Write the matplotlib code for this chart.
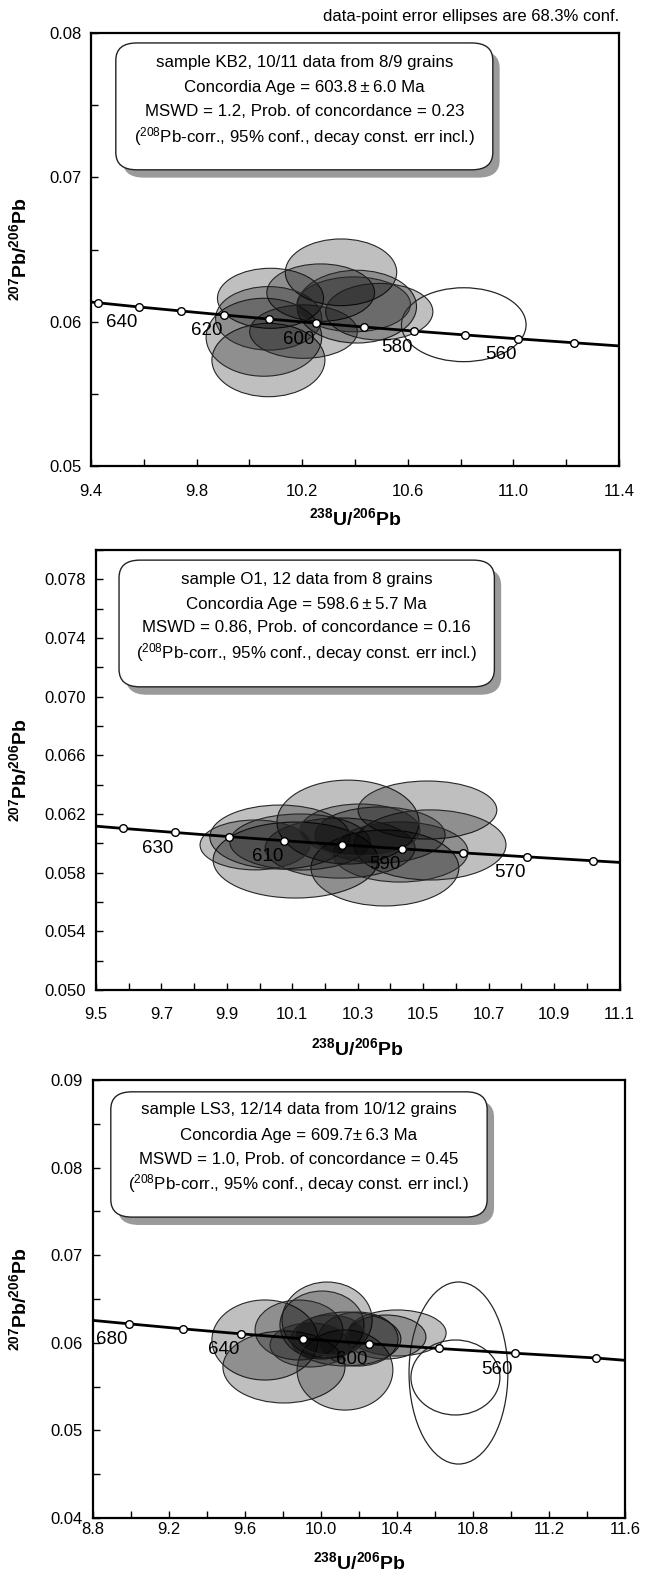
import matplotlib
matplotlib.use('Agg')
import matplotlib.pyplot as plt
from matplotlib.patches import Ellipse, FancyBboxPatch
from matplotlib.ticker import MultipleLocator

plt.rcParams['font.family'] = ['Liberation Sans', 'DejaVu Sans']
plt.rcParams['mathtext.fontset'] = 'custom'
plt.rcParams['mathtext.rm'] = 'Liberation Sans'
plt.rcParams['mathtext.bf'] = 'Liberation Sans:bold'
plt.rcParams['mathtext.it'] = 'Liberation Sans:italic'

# ---- sample KB2 ----
kb2_ages = [650, 640, 630, 620, 610, 600, 590, 580, 570, 560, 550]
kb2_cx = [9.426, 9.581, 9.741, 9.905, 10.076, 10.252, 10.434, 10.622, 10.817, 11.019, 11.228]
kb2_cy = [0.06131, 0.06102, 0.06074, 0.06046, 0.06018, 0.05990, 0.05963, 0.05935, 0.05908, 0.05881, 0.05854]
kb2_edge_x = [9.40, 11.40]
kb2_edge_y = [0.06136, 0.05832]
kb2_labels = [640, 620, 600, 580, 560]
kb2_x = [10.347, 10.080, 10.270, 10.407, 10.492, 10.072, 10.055, 10.205, 10.073, 10.395]
kb2_y = [0.06342, 0.06162, 0.06201, 0.06104, 0.06069, 0.05734, 0.05892, 0.05931, 0.06023, 0.06120]
kb2_sx = [0.211, 0.201, 0.204, 0.226, 0.203, 0.214, 0.219, 0.204, 0.201, 0.215]
kb2_sy = [0.00231, 0.00208, 0.00199, 0.00252, 0.00196, 0.00254, 0.00270, 0.00185, 0.00220, 0.00190]
kb2_open_x = [10.812]
kb2_open_y = [0.05979]
kb2_open_sx = [0.236]
kb2_open_sy = [0.00256]
kb2_xticks = [9.4, 9.8, 10.2, 10.6, 11.0, 11.4]
kb2_xticklabels = ['9.4', '9.8', '10.2', '10.6', '11.0', '11.4']
kb2_yticks = [0.05, 0.06, 0.07, 0.08]
kb2_yticklabels = ['0.05', '0.06', '0.07', '0.08']

# ---- sample O1 ----
o1_ages = [640, 630, 620, 610, 600, 590, 580, 570, 560]
o1_cx = [9.581, 9.741, 9.905, 10.076, 10.252, 10.434, 10.622, 10.817, 11.019]
o1_cy = [0.06102, 0.06074, 0.06046, 0.06018, 0.05990, 0.05963, 0.05935, 0.05908, 0.05881]
o1_edge_x = [9.50, 11.10]
o1_edge_y = [0.06117, 0.05870]
o1_labels = [630, 610, 590, 570]
o1_x = [10.110, 10.383, 10.270, 10.513, 10.521, 10.062, 10.123, 10.246, 10.368, 10.429, 9.986, 10.307]
o1_y = [0.05886, 0.05832, 0.06145, 0.06227, 0.05989, 0.06043, 0.06009, 0.05968, 0.06057, 0.05941, 0.05989, 0.06091]
o1_sx = [0.252, 0.226, 0.217, 0.212, 0.232, 0.214, 0.214, 0.229, 0.199, 0.208, 0.168, 0.183]
o1_sy = [0.00259, 0.00259, 0.00286, 0.00198, 0.00239, 0.00218, 0.00191, 0.00205, 0.00191, 0.00205, 0.00170, 0.00177]
o1_xticks = [9.5, 9.7, 9.9, 10.1, 10.3, 10.5, 10.7, 10.9, 11.1]
o1_xticklabels = ['9.5', '9.7', '9.9', '10.1', '10.3', '10.5', '10.7', '10.9', '11.1']
o1_yticks = [0.050, 0.054, 0.058, 0.062, 0.066, 0.070, 0.074, 0.078]
o1_yticklabels = ['0.050', '0.054', '0.058', '0.062', '0.066', '0.070', '0.074', '0.078']

# ---- sample LS3 ----
ls3_ages = [680, 660, 640, 620, 600, 580, 560, 540]
ls3_cx = [8.989, 9.276, 9.581, 9.905, 10.252, 10.622, 11.019, 11.445]
ls3_cy = [0.06217, 0.06159, 0.06102, 0.06046, 0.05990, 0.05935, 0.05881, 0.05827]
ls3_edge_x = [8.80, 11.60]
ls3_edge_y = [0.06256, 0.05800]
ls3_labels = [680, 640, 600, 560]
ls3_x = [9.706, 9.806, 10.127, 10.033, 10.006, 9.885, 10.132, 10.196, 10.343, 10.401, 9.943, 10.048]
ls3_y = [0.06032, 0.05724, 0.05689, 0.06260, 0.06203, 0.06146, 0.06043, 0.06043, 0.06066, 0.06112, 0.05975, 0.06089]
ls3_sx = [0.279, 0.321, 0.252, 0.237, 0.221, 0.231, 0.289, 0.210, 0.210, 0.258, 0.210, 0.184]
ls3_sy = [0.00457, 0.00411, 0.00457, 0.00434, 0.00388, 0.00342, 0.00308, 0.00308, 0.00251, 0.00263, 0.00251, 0.00228]
ls3_open_x = [10.724, 10.708]
ls3_open_y = [0.05655, 0.05604]
ls3_open_sx = [0.260, 0.234]
ls3_open_sy = [0.01039, 0.00428]
ls3_xticks = [8.8, 9.2, 9.6, 10.0, 10.4, 10.8, 11.2, 11.6]
ls3_xticklabels = ['8.8', '9.2', '9.6', '10.0', '10.4', '10.8', '11.2', '11.6']
ls3_yticks = [0.04, 0.05, 0.06, 0.07, 0.08, 0.09]
ls3_yticklabels = ['0.04', '0.05', '0.06', '0.07', '0.08', '0.09']

box_lines = {
    'kb2': ['sample KB2, 10/11 data from 8/9 grains',
            'Concordia Age = 603.8\u2009±\u20096.0 Ma',
            'MSWD = 1.2, Prob. of concordance = 0.23',
            '($^{208}$Pb-corr., 95% conf., decay const. err incl.)'],
    'o1': ['sample O1, 12 data from 8 grains',
           'Concordia Age = 598.6\u2009±\u20095.7 Ma',
           'MSWD = 0.86, Prob. of concordance = 0.16',
           '($^{208}$Pb-corr., 95% conf., decay const. err incl.)'],
    'ls3': ['sample LS3, 12/14 data from 10/12 grains',
            'Concordia Age = 609.7±\u20096.3 Ma',
            'MSWD = 1.0, Prob. of concordance = 0.45',
            '($^{208}$Pb-corr., 95% conf., decay const. err incl.)'],
}

W, H = 655, 1575
fig = plt.figure(figsize=(W / 100, H / 100), dpi=100)


def px_axes(l, t, r, b):
    return fig.add_axes([l / W, 1 - b / H, (r - l) / W, (b - t) / H])


def panel(ax, xlim, ylim, xticks, xticklabels, xminor, yticks, yticklabels, yminor, xpad,
          ages, cx, cy, ex, ey, labels, ex_, ey_, sx, sy, ox, oy, osx, osy,
          lines, box, line_y, ylab_x, xlab_y):
    ax.set_xlim(*xlim)
    ax.set_ylim(*ylim)
    for x, y, a, b in zip(ex_, ey_, sx, sy):
        ax.add_patch(Ellipse((x, y), 2 * a, 2 * b, facecolor=(0, 0, 0, 0.25),
                             edgecolor='#262626', lw=0.8, zorder=2))
    for x, y, a, b in zip(ox, oy, osx, osy):
        ax.add_patch(Ellipse((x, y), 2 * a, 2 * b, facecolor='none',
                             edgecolor='#262626', lw=0.9, zorder=2))
    lx = [ex[0]] + cx + [ex[1]]
    ly = [ey[0]] + cy + [ey[1]]
    ax.plot(lx, ly, color='black', lw=2.0, zorder=3)
    ax.plot(cx, cy, 'o', ms=5.5, mfc='white', mec='black', mew=1.0, zorder=4)
    for age, x, y in zip(ages, cx, cy):
        if age in labels:
            ax.annotate(str(age), (x, y), xytext=(-1, -11.5), textcoords='offset points',
                        ha='right', va='center', fontsize=13.5, zorder=5)
    # text box with shadow
    x0, y0, x1, y1 = box
    ax.add_patch(FancyBboxPatch((x0 + 0.013, y0 - 0.018), x1 - x0, y1 - y0,
                                boxstyle='round,pad=0,rounding_size=0.04',
                                transform=ax.transAxes, facecolor='#9a9a9a',
                                edgecolor='none', zorder=6))
    ax.add_patch(FancyBboxPatch((x0, y0), x1 - x0, y1 - y0,
                                boxstyle='round,pad=0,rounding_size=0.04',
                                transform=ax.transAxes, facecolor='white',
                                edgecolor='#222222', lw=1.0, zorder=7))
    xc = (x0 + x1) / 2
    for txt, yy in zip(lines, line_y):
        ax.text(xc, yy, txt, transform=ax.transAxes, ha='center', va='center',
                fontsize=12.2, zorder=8)
    ax.set_xticks(xticks)
    ax.set_xticklabels(xticklabels)
    ax.set_yticks(yticks)
    ax.set_yticklabels(yticklabels)
    ax.xaxis.set_minor_locator(MultipleLocator(xminor))
    ax.yaxis.set_minor_locator(MultipleLocator(yminor))
    ax.tick_params(which='both', direction='in', length=5, width=1.0,
                   top=False, right=False, labelsize=12)
    ax.tick_params(axis='x', which='major', pad=xpad)
    ax.tick_params(axis='y', which='major', pad=7)
    for s in ax.spines.values():
        s.set_linewidth(1.6)
    ax.set_xlabel(r'$\mathbf{^{238}U/^{206}Pb}$', fontsize=14)
    ax.set_ylabel(r'$\mathbf{^{207}Pb/^{206}Pb}$', fontsize=14)
    ax.xaxis.set_label_coords(0.5, xlab_y)
    ax.yaxis.set_label_coords(ylab_x, 0.5)


ax1 = px_axes(91, 33, 619, 466)
panel(ax1, (9.4, 11.4), (0.05, 0.08), kb2_xticks, kb2_xticklabels, 0.2,
      kb2_yticks, kb2_yticklabels, 0.005, 13,
      kb2_ages, kb2_cx, kb2_cy, kb2_edge_x, kb2_edge_y, kb2_labels,
      kb2_x, kb2_y, kb2_sx, kb2_sy, kb2_open_x, kb2_open_y, kb2_open_sx, kb2_open_sy,
      box_lines['kb2'], (0.047, 0.684, 0.761, 0.977), [0.931, 0.875, 0.818, 0.760],
      -0.116, -0.095)
ax1.text(1.0, 1.037, 'data-point error ellipses are 68.3% conf.', transform=ax1.transAxes,
         ha='right', va='center', fontsize=12)

ax2 = px_axes(96, 550, 619.5, 990)
panel(ax2, (9.5, 11.1), (0.050, 0.080), o1_xticks, o1_xticklabels, 0.1,
      o1_yticks, o1_yticklabels, 0.002, 12,
      o1_ages, o1_cx, o1_cy, o1_edge_x, o1_edge_y, o1_labels,
      o1_x, o1_y, o1_sx, o1_sy, [], [], [], [],
      box_lines['o1'], (0.044, 0.689, 0.761, 0.977), [0.932, 0.877, 0.823, 0.766],
      -0.126, -0.107)

ax3 = px_axes(92.7, 1080, 625, 1518)
panel(ax3, (8.8, 11.6), (0.04, 0.09), ls3_xticks, ls3_xticklabels, 0.2,
      ls3_yticks, ls3_yticklabels, 0.005, 3,
      ls3_ages, ls3_cx, ls3_cy, ls3_edge_x, ls3_edge_y, ls3_labels,
      ls3_x, ls3_y, ls3_sx, ls3_sy, ls3_open_x, ls3_open_y, ls3_open_sx, ls3_open_sy,
      box_lines['ls3'], (0.034, 0.687, 0.741, 0.973), [0.932, 0.874, 0.819, 0.763],
      -0.118, -0.075)

fig.savefig('out.png', dpi=100)
